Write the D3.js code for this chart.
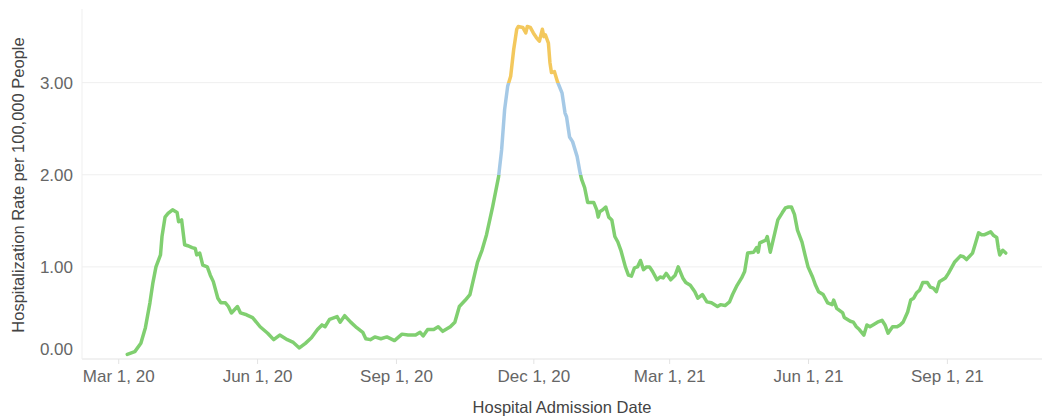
<!DOCTYPE html>
<html>
<head>
<meta charset="utf-8">
<script src="https://cdn.jsdelivr.net/npm/d3@7"></script>
<style>
body { margin: 0; background: #fff; }
svg { display: block; font-family: "Liberation Sans", Arial, sans-serif; }
</style>
</head>
<body>
<script>
// hospital admission dates and rates
var dates = [
"2020-03-07","2020-03-12","2020-03-16","2020-03-19","2020-03-22","2020-03-24","2020-03-26","2020-03-29","2020-03-30",
"2020-04-01","2020-04-03","2020-04-06","2020-04-09","2020-04-10","2020-04-12","2020-04-14","2020-04-16","2020-04-19",
"2020-04-21","2020-04-22","2020-04-24","2020-04-26","2020-04-29","2020-05-01","2020-05-03","2020-05-06","2020-05-08",
"2020-05-11","2020-05-13","2020-05-15","2020-05-19","2020-05-21","2020-05-25","2020-05-29","2020-06-03","2020-06-08",
"2020-06-12","2020-06-16","2020-06-21","2020-06-25","2020-06-29","2020-07-03","2020-07-07","2020-07-11","2020-07-14",
"2020-07-16","2020-07-19","2020-07-24","2020-07-26","2020-07-29","2020-08-02","2020-08-06","2020-08-10","2020-08-12",
"2020-08-15","2020-08-18","2020-08-22","2020-08-26","2020-08-31","2020-09-05","2020-09-09","2020-09-14","2020-09-17",
"2020-09-19","2020-09-22","2020-09-26","2020-09-29","2020-10-02","2020-10-07","2020-10-10","2020-10-13","2020-10-17",
"2020-10-20","2020-10-22","2020-10-25","2020-10-28","2020-10-31","2020-11-04","2020-11-08","2020-11-10","2020-11-12",
"2020-11-14","2020-11-16","2020-11-18","2020-11-19","2020-11-20","2020-11-21","2020-11-24","2020-11-26","2020-11-27",
"2020-11-29","2020-12-01","2020-12-03","2020-12-05","2020-12-07","2020-12-08","2020-12-09","2020-12-11","2020-12-12",
"2020-12-13","2020-12-15","2020-12-17","2020-12-20","2020-12-22","2020-12-23","2020-12-25","2020-12-27","2020-12-30",
"2021-01-01","2021-01-02","2021-01-04","2021-01-06","2021-01-10","2021-01-12","2021-01-13","2021-01-14","2021-01-16",
"2021-01-18","2021-01-20","2021-01-22","2021-01-24","2021-01-26","2021-01-28","2021-01-31","2021-02-02","2021-02-04",
"2021-02-06","2021-02-08","2021-02-10","2021-02-12","2021-02-14","2021-02-16","2021-02-18","2021-02-21","2021-02-23",
"2021-02-25","2021-02-27","2021-03-02","2021-03-05","2021-03-07","2021-03-10","2021-03-12","2021-03-15","2021-03-18",
"2021-03-20","2021-03-23","2021-03-26","2021-03-29","2021-04-02","2021-04-04","2021-04-07","2021-04-10","2021-04-12",
"2021-04-15","2021-04-18","2021-04-20","2021-04-22","2021-04-26","2021-04-28","2021-04-29","2021-04-30","2021-05-04",
"2021-05-05","2021-05-07","2021-05-10","2021-05-12","2021-05-15","2021-05-17","2021-05-19","2021-05-21","2021-05-23",
"2021-05-25","2021-05-28","2021-05-30","2021-06-01","2021-06-04","2021-06-06","2021-06-08","2021-06-11","2021-06-14",
"2021-06-17","2021-06-18","2021-06-20","2021-06-24","2021-06-25","2021-06-29","2021-07-01","2021-07-03","2021-07-05",
"2021-07-08","2021-07-10","2021-07-12","2021-07-14","2021-07-17","2021-07-20","2021-07-22","2021-07-24","2021-07-27",
"2021-07-30","2021-08-01","2021-08-03","2021-08-06","2021-08-08","2021-08-10","2021-08-12","2021-08-14","2021-08-16",
"2021-08-19","2021-08-21","2021-08-23","2021-08-25","2021-08-27","2021-08-31","2021-09-02","2021-09-04","2021-09-06",
"2021-09-10","2021-09-12","2021-09-14","2021-09-18","2021-09-20","2021-09-22","2021-09-24","2021-09-26","2021-09-30",
"2021-10-02","2021-10-04","2021-10-05","2021-10-06","2021-10-08","2021-10-10"
];
var rates = [
0.05,0.08,0.17,0.34,0.61,0.83,1.00,1.13,1.33,
1.54,1.58,1.62,1.59,1.49,1.51,1.24,1.23,1.21,
1.20,1.13,1.15,1.02,1.00,0.91,0.84,0.66,0.61,
0.61,0.57,0.50,0.57,0.50,0.48,0.45,0.35,0.28,
0.21,0.26,0.21,0.18,0.12,0.17,0.23,0.32,0.37,
0.35,0.43,0.46,0.40,0.47,0.40,0.34,0.29,0.22,
0.21,0.24,0.22,0.24,0.20,0.27,0.26,0.26,0.29,
0.25,0.32,0.32,0.35,0.30,0.35,0.40,0.57,0.64,
0.70,0.84,1.05,1.18,1.35,1.65,1.98,2.27,2.71,
2.96,3.07,3.36,3.47,3.58,3.61,3.60,3.54,3.61,
3.60,3.54,3.49,3.45,3.58,3.50,3.52,3.43,3.22,
3.11,3.12,3.01,2.89,2.67,2.63,2.41,2.36,2.20,
2.02,1.95,1.86,1.70,1.70,1.62,1.54,1.60,1.62,
1.65,1.54,1.51,1.33,1.27,1.18,1.00,0.91,0.90,
0.99,1.00,1.07,0.97,1.00,1.00,0.95,0.86,0.89,
0.88,0.93,0.86,0.91,1.00,0.88,0.83,0.80,0.73,
0.66,0.70,0.62,0.61,0.57,0.59,0.58,0.62,0.70,
0.80,0.88,0.95,1.15,1.16,1.21,1.16,1.26,1.29,
1.33,1.16,1.37,1.51,1.59,1.64,1.65,1.65,1.57,
1.40,1.27,1.13,1.00,0.89,0.80,0.73,0.70,0.61,
0.59,0.64,0.55,0.50,0.45,0.41,0.40,0.35,0.32,
0.26,0.37,0.35,0.37,0.40,0.42,0.37,0.28,0.35,
0.35,0.37,0.40,0.51,0.64,0.66,0.72,0.75,0.83,
0.83,0.78,0.77,0.73,0.84,0.88,0.93,0.99,1.05,
1.12,1.11,1.08,1.15,1.26,1.37,1.35,1.35,1.38,
1.34,1.32,1.21,1.13,1.18,1.15
];
var yTicks = [0, 1, 2, 3];
var xTicks = ["2020-03-01","2020-06-01","2020-09-01","2020-12-01","2021-03-01","2021-06-01","2021-09-01"];
// colour bands by rate: below 2, 2 to 3, above 3
var bandLimits = [2, 3];
var bandColors = ["#80cf70", "#a5c9e6", "#f3c85d"];

var parse = d3.timeParse("%Y-%m-%d");
var data = dates.map(function(d, i) { return {date: parse(d), rate: rates[i]}; });

var outerWidth = 1042, outerHeight = 419;
var margin = {top: 9, right: 0, bottom: 60, left: 82};
var width = outerWidth - margin.left - margin.right,
    height = outerHeight - margin.top - margin.bottom;
var yMax = 3.8;

var svg = d3.select("body").append("svg")
    .attr("width", outerWidth)
    .attr("height", outerHeight);
var g = svg.append("g")
    .attr("transform", "translate(" + margin.left + "," + margin.top + ")");

var x = d3.scaleTime()
    .domain([parse("2020-02-06"), parse("2021-11-03")])
    .range([0, width]);
var y = d3.scaleLinear()
    .domain([0, yMax])
    .range([height, 0]);

// gridlines
g.append("g").selectAll("line")
  .data(yTicks)
  .enter().append("line")
    .attr("x1", 0).attr("x2", width)
    .attr("y1", function(d) { return y(d); })
    .attr("y2", function(d) { return y(d); })
    .attr("stroke", function(d) { return d === 0 ? "#e3e3e3" : "#efefef"; })
    .attr("stroke-width", 1);

// left axis line
g.append("line")
    .attr("x1", 0).attr("x2", 0)
    .attr("y1", 0).attr("y2", height)
    .attr("stroke", "#efefef");

// y axis labels
var yAxis = d3.axisLeft(y)
    .tickValues(yTicks)
    .tickSize(0)
    .tickPadding(9)
    .tickFormat(d3.format(".2f"));
var yg = g.append("g").call(yAxis);
yg.select(".domain").remove();
yg.selectAll("text")
    .attr("fill", "#666")
    .style("font-size", "17px")
    .attr("dy", function(d) { return d === 0 ? "-0.26em" : "0.32em"; });

// x axis
var xAxis = d3.axisBottom(x)
    .tickValues(xTicks.map(parse))
    .tickSize(5)
    .tickPadding(6)
    .tickFormat(d3.timeFormat("%b %-d, %y"));
var xg = g.append("g")
    .attr("transform", "translate(0," + height + ")")
    .call(xAxis);
xg.select(".domain").remove();
xg.selectAll(".tick line").attr("stroke", "#e3e3e3");
xg.selectAll("text")
    .attr("fill", "#666")
    .style("font-size", "17px");

// gradient for the colour bands
var grad = svg.append("defs").append("linearGradient")
    .attr("id", "rateGrad")
    .attr("gradientUnits", "userSpaceOnUse")
    .attr("x1", 0).attr("x2", 0)
    .attr("y1", y(0)).attr("y2", y(yMax));
var edges = [0].concat(bandLimits).concat([yMax]);
bandColors.forEach(function(c, i) {
  grad.append("stop").attr("offset", edges[i] / yMax).attr("stop-color", c);
  grad.append("stop").attr("offset", edges[i + 1] / yMax).attr("stop-color", c);
});

var line = d3.line()
    .x(function(d) { return x(d.date); })
    .y(function(d) { return y(d.rate); });

g.append("path")
    .datum(data)
    .attr("fill", "none")
    .attr("stroke", "url(#rateGrad)")
    .attr("stroke-width", 3.5)
    .attr("stroke-linejoin", "round")
    .attr("stroke-linecap", "round")
    .attr("d", line);

// axis titles
svg.append("text")
    .attr("x", 562)
    .attr("y", 413)
    .attr("text-anchor", "middle")
    .attr("fill", "#444")
    .style("font-size", "16.5px")
    .text("Hospital Admission Date");

svg.append("text")
    .attr("transform", "translate(24,185) rotate(-90)")
    .attr("text-anchor", "middle")
    .attr("fill", "#444")
    .style("font-size", "16.5px")
    .text("Hospitalization Rate per 100,000 People");
</script>
</body>
</html>
